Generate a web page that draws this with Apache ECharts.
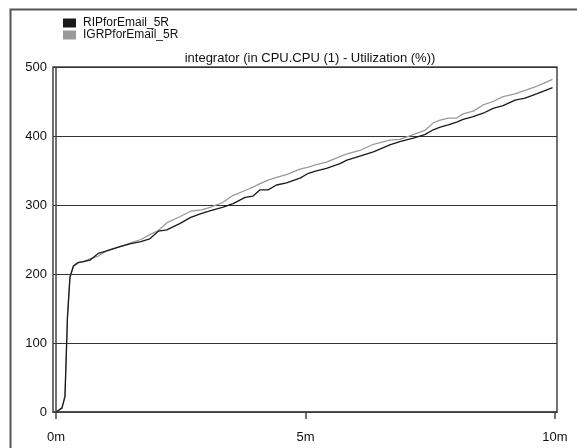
<!DOCTYPE html>
<html><head><meta charset="utf-8">
<script src="https://cdn.jsdelivr.net/npm/echarts@6/dist/echarts.min.js"></script>
<style>html,body{margin:0;padding:0;background:#fff}#c{width:577px;height:448px}</style>
</head><body><div id="c"></div>
<script>
// time in minutes
const times = [0,0.12,0.18,0.23,0.28,0.35,0.45,0.55,0.68,0.85,1.0,1.25,1.5,1.7,1.88,2.05,2.22,2.48,2.7,2.92,3.1,3.35,3.55,3.79,3.95,4.09,4.25,4.42,4.62,4.89,5.06,5.2,5.42,5.69,5.83,6.09,6.36,6.69,6.89,7.16,7.39,7.56,7.7,7.86,8.03,8.16,8.36,8.56,8.76,8.96,9.2,9.4,9.63,9.95];
const ripValues = [0,6,22,137,195,212,217,218,220,230,233,239,244,247,251,262,264,273,282,288,292,297,302,311,313,322,322,329,332,339,346,349,353,360,365,371,377,387,392,397,402,409,413,416,420,424,428,433,440,444,452,455,461,470];
const igrpValues = [0,5,25,140,197,211,216,218,222,226,233,239,245,250,257,263,274,283,291,293,297,304,314,321,326,331,336,340,344,352,355,358,362,370,374,379,388,394,395,402,408,419,423,426,426,432,436,445,450,457,461,466,472,482];
const seriesNames = ['RIPforEmail_5R','IGRPforEmail_5R'];
const xTicks = [0,5,10];
const titleText = 'integrator (in CPU.CPU (1) - Utilization (%))';

const FONT = '"Liberation Sans",Arial,sans-serif';
const chart = echarts.init(document.getElementById('c'), null, {renderer:'canvas'});
const pair = (vals) => times.map((t,i)=>[t, vals[i]]);
chart.setOption({
  animation:false,
  backgroundColor:'#fff',
  graphic:[{type:'rect', left:8, top:7, shape:{x:0,y:0,width:700,height:600}, style:{fill:'none', stroke:'#555', lineWidth:2}, silent:true, z:-1}],
  title:{text:titleText, left:305, textAlign:'center', top:47, textStyle:{fontFamily:FONT, fontSize:13, fontWeight:'normal', color:'#111'}},
  legend:{orient:'vertical', left:58, top:12, itemWidth:13, itemHeight:9, itemGap:0, icon:'rect',
    textStyle:{fontFamily:FONT, fontSize:12, color:'#111', padding:[0,0,0,2]},
    data:seriesNames},
  grid:{left:53, right:20, top:67, bottom:36, show:true, borderColor:'#444', borderWidth:1.5, backgroundColor:'transparent'},
  xAxis:{type:'value', min:-0.06, max:10.04,
    axisLine:{show:true, lineStyle:{color:'#444', width:1.5}},
    axisTick:{show:true, customValues:xTicks, length:7, lineStyle:{color:'#444', width:1.5}},
    axisLabel:{customValues:xTicks, formatter:(v)=>Math.round(v)+'m', margin:19, fontFamily:FONT, fontSize:13, color:'#111'},
    splitLine:{show:false}},
  yAxis:{type:'value', min:0, max:500, interval:100,
    axisLine:{show:true, lineStyle:{color:'#444', width:1.5}},
    axisTick:{show:false},
    axisLabel:{margin:6, fontFamily:FONT, fontSize:13, color:'#111'},
    splitLine:{show:true, lineStyle:{color:'#333', width:1.2}}},
  series:[
    {name:seriesNames[1], type:'line', data:pair(igrpValues), showSymbol:false, lineStyle:{color:'#9a9a9a', width:1.3}, itemStyle:{color:'#9a9a9a'}, z:2},
    {name:seriesNames[0], type:'line', data:pair(ripValues), showSymbol:false, lineStyle:{color:'#1a1a1a', width:1.3}, itemStyle:{color:'#1a1a1a'}, z:3}
  ]
});
</script></body></html>
